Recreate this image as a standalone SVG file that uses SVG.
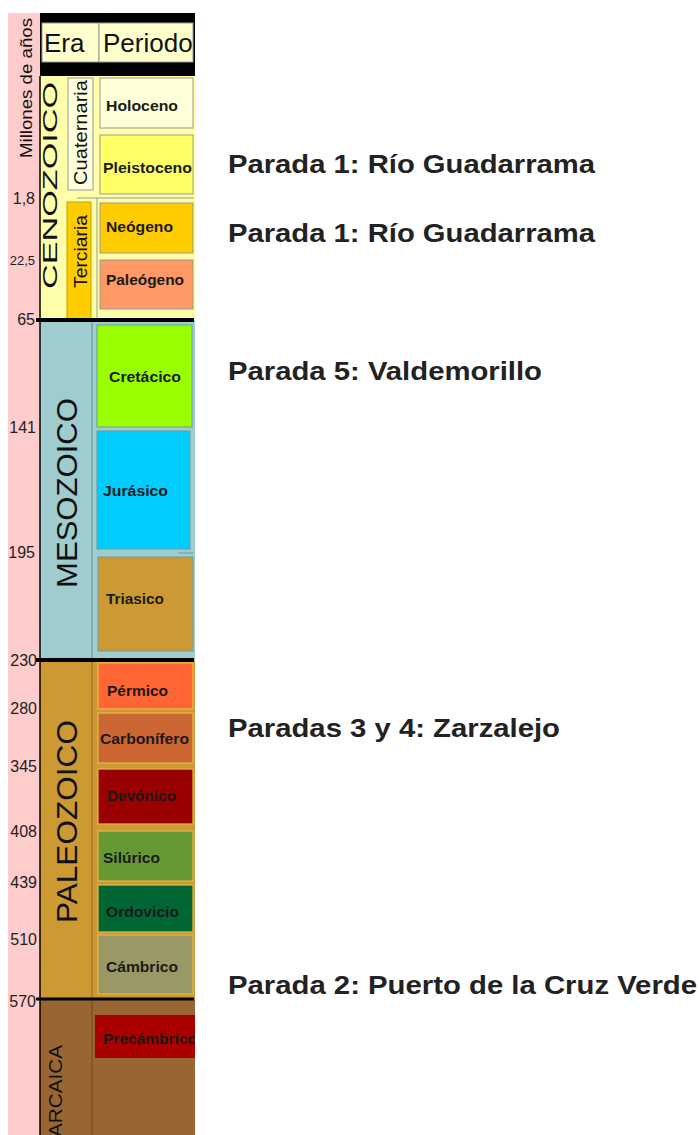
<svg xmlns="http://www.w3.org/2000/svg" width="699" height="1135" viewBox="0 0 699 1135">
<style>
.num{font-family:"Liberation Sans",Arial,sans-serif;font-size:16px;fill:#222;text-anchor:end}
.per{font-family:"Liberation Sans",Arial,sans-serif;font-size:15px;font-weight:bold;fill:#1a1a1a}
.era{font-family:"Liberation Sans",Arial,sans-serif;fill:#111;text-anchor:middle}
.hdr{font-family:"Liberation Sans",Arial,sans-serif;font-size:26px;fill:#111}
.stop{font-family:"Liberation Sans",Arial,sans-serif;font-size:26px;font-weight:bold;fill:#222}
.bc{stroke:#999;stroke-width:1}
.bm{stroke:#6F9C9C;stroke-width:1}
.bp{stroke:#E6B848;stroke-width:1.2}
.div{stroke:#000;fill:none}
</style>
<defs>
<clipPath id="chartclip"><rect x="0" y="0" width="195" height="1135"/></clipPath>
</defs>
<rect x="0" y="0" width="699" height="1135" fill="#fff"/>
<g id="scale">
<rect x="8" y="13" width="32" height="1122" fill="#FFCCCC"/>
<text class="era" font-size="17" transform="translate(32,88) rotate(-90)" textLength="140" lengthAdjust="spacingAndGlyphs">Millones de años</text>
<text class="num" x="35" y="204" font-size="15">1,8</text>
<text class="num" x="35" y="265" style="font-size:13px">22,5</text>
<text class="num" x="35" y="325">65</text>
<text class="num" x="36" y="433">141</text>
<text class="num" x="35" y="558">195</text>
<text class="num" x="37" y="666">230</text>
<text class="num" x="37" y="714">280</text>
<text class="num" x="37" y="772">345</text>
<text class="num" x="37" y="837">408</text>
<text class="num" x="37" y="888">439</text>
<text class="num" x="37" y="945">510</text>
<text class="num" x="36" y="1007">570</text>
</g>
<g id="chart" clip-path="url(#chartclip)">
<g id="header">
<rect x="40" y="13" width="155" height="63" fill="#000"/>
<rect x="42" y="23" width="57" height="39" fill="#FFFFCC" stroke="#999"/>
<rect x="99" y="23" width="94" height="39" fill="#FFFFCC" stroke="#999"/>
<text class="hdr" x="44" y="52">Era</text>
<text class="hdr" x="103" y="52">Periodo</text>
</g>
<g id="cenozoico">
<rect x="40" y="76" width="155" height="244" fill="#FFFFAA"/>
<line x1="77" y1="198" x2="194" y2="198" stroke="#999"/>
<line x1="97" y1="198" x2="97" y2="318" stroke="#999"/>
<text class="era" font-size="21" transform="translate(57,185.5) rotate(-90)" textLength="207" lengthAdjust="spacingAndGlyphs">CENOZOICO</text>
<g id="cuaternaria">
<rect x="68" y="78" width="25" height="112" fill="#FFFFDD" stroke="#999"/>
<text class="era" font-size="19" transform="translate(86.5,132.5) rotate(-90)" textLength="105" lengthAdjust="spacingAndGlyphs">Cuaternaria</text>
</g>
<g id="terciaria">
<rect x="67" y="202" width="24" height="118" fill="#FFCC00" stroke="#C9A000"/>
<text class="era" font-size="19" transform="translate(87,251.5) rotate(-90)" textLength="73" lengthAdjust="spacingAndGlyphs">Terciaria</text>
</g>
<g id="holoceno"><rect class="bc" x="100" y="78" width="93" height="50" fill="#FFFFD8"/><text class="per" x="106" y="111" textLength="72" lengthAdjust="spacingAndGlyphs">Holoceno</text></g>
<g id="pleistoceno"><rect class="bc" x="100" y="135" width="93" height="59" fill="#FFFF66"/><text class="per" x="103" y="173" textLength="89" lengthAdjust="spacingAndGlyphs">Pleistoceno</text></g>
<g id="neogeno"><rect class="bc" x="100" y="203" width="93" height="50" fill="#FFCC00"/><text class="per" x="106" y="232" textLength="67" lengthAdjust="spacingAndGlyphs">Neógeno</text></g>
<g id="paleogeno"><rect class="bc" x="100" y="260" width="93" height="49" fill="#FF9966"/><text class="per" x="106" y="285" textLength="78" lengthAdjust="spacingAndGlyphs">Paleógeno</text></g>
</g>
<g id="mesozoico">
<rect x="40" y="320" width="155" height="340" fill="#9FCDCF"/>
<line x1="92" y1="322" x2="92" y2="658" stroke="#6A8A8A"/>
<text class="era" font-size="29" transform="translate(76.5,493) rotate(-90)" textLength="190" lengthAdjust="spacingAndGlyphs">MESOZOICO</text>
<g id="cretacico"><rect class="bm" x="97" y="325" width="95" height="102" fill="#99FF00"/><text class="per" x="109" y="382" textLength="72" lengthAdjust="spacingAndGlyphs">Cretácico</text></g>
<g id="jurasico"><rect class="bm" x="97" y="431" width="93" height="118" fill="#00CCFF"/><text class="per" x="103" y="496" textLength="65" lengthAdjust="spacingAndGlyphs">Jurásico</text></g>
<line x1="178" y1="553" x2="193" y2="553" stroke="#6F9C9C"/>
<g id="triasico"><rect class="bm" x="98" y="557" width="95" height="94" fill="#CC9933"/><text class="per" x="106" y="604" textLength="58" lengthAdjust="spacingAndGlyphs">Triasico</text></g>
</g>
<g id="paleozoico">
<rect x="40" y="660" width="155" height="339" fill="#CC9933"/>
<line x1="92" y1="662" x2="92" y2="998" stroke="#8A6A2A"/>
<text class="era" font-size="29" transform="translate(76.5,821.5) rotate(-90)" textLength="203" lengthAdjust="spacingAndGlyphs">PALEOZOICO</text>
<g id="permico"><rect class="bp" x="98" y="663" width="95" height="46" fill="#FF6633"/><text class="per" x="107" y="696" textLength="61" lengthAdjust="spacingAndGlyphs">Pérmico</text></g>
<g id="carbonifero"><rect class="bp" x="98" y="713" width="95" height="50" fill="#CC6633"/><text class="per" x="100" y="744" textLength="89" lengthAdjust="spacingAndGlyphs">Carbonífero</text></g>
<g id="devonico"><rect class="bp" x="98" y="769" width="95" height="55" fill="#990000"/><text class="per" x="107" y="801" textLength="69" lengthAdjust="spacingAndGlyphs">Devónico</text></g>
<g id="silurico"><rect class="bp" x="98" y="831" width="95" height="50" fill="#669933"/><text class="per" x="103" y="863" textLength="57" lengthAdjust="spacingAndGlyphs">Silúrico</text></g>
<g id="ordovicio"><rect class="bp" x="98" y="885" width="95" height="47" fill="#006633"/><text class="per" x="106" y="917" textLength="73" lengthAdjust="spacingAndGlyphs">Ordovicio</text></g>
<g id="cambrico"><rect class="bp" x="98" y="935" width="95" height="59" fill="#999966"/><text class="per" x="106" y="972" textLength="72" lengthAdjust="spacingAndGlyphs">Cámbrico</text></g>
</g>
<g id="arcaica">
<rect x="40" y="999" width="155" height="136" fill="#996633"/>
<line x1="92" y1="1001" x2="92" y2="1135" stroke="#6A4A20"/>
<text class="era" font-size="19" text-anchor="end" style="text-anchor:end" transform="translate(62,1045) rotate(-90)" textLength="92" lengthAdjust="spacingAndGlyphs">ARCAICA</text>
<g id="precambrico"><rect x="95" y="1015" width="100" height="43" fill="#AA0000"/><text class="per" x="103" y="1044" textLength="94" lengthAdjust="spacingAndGlyphs">Precámbrico</text></g>
</g>
<g id="dividers">
<line class="div" x1="40" y1="76" x2="40" y2="1135" stroke-width="1.5" stroke="#333"/>
<line class="div" x1="36" y1="320" x2="194" y2="320" stroke-width="4"/>
<line class="div" x1="36" y1="660" x2="194" y2="660" stroke-width="4"/>
<line class="div" x1="36" y1="999" x2="194" y2="999" stroke-width="3"/>
</g>
</g>
<g id="stops">
<text class="stop" x="228" y="173" textLength="367" lengthAdjust="spacingAndGlyphs">Parada 1: Río Guadarrama</text>
<text class="stop" x="228" y="242" textLength="367" lengthAdjust="spacingAndGlyphs">Parada 1: Río Guadarrama</text>
<text class="stop" x="228" y="380" textLength="314" lengthAdjust="spacingAndGlyphs">Parada 5: Valdemorillo</text>
<text class="stop" x="228" y="737" textLength="332" lengthAdjust="spacingAndGlyphs">Paradas 3 y 4: Zarzalejo</text>
<text class="stop" x="228" y="994" textLength="469" lengthAdjust="spacingAndGlyphs">Parada 2: Puerto de la Cruz Verde</text>
</g>
</svg>
